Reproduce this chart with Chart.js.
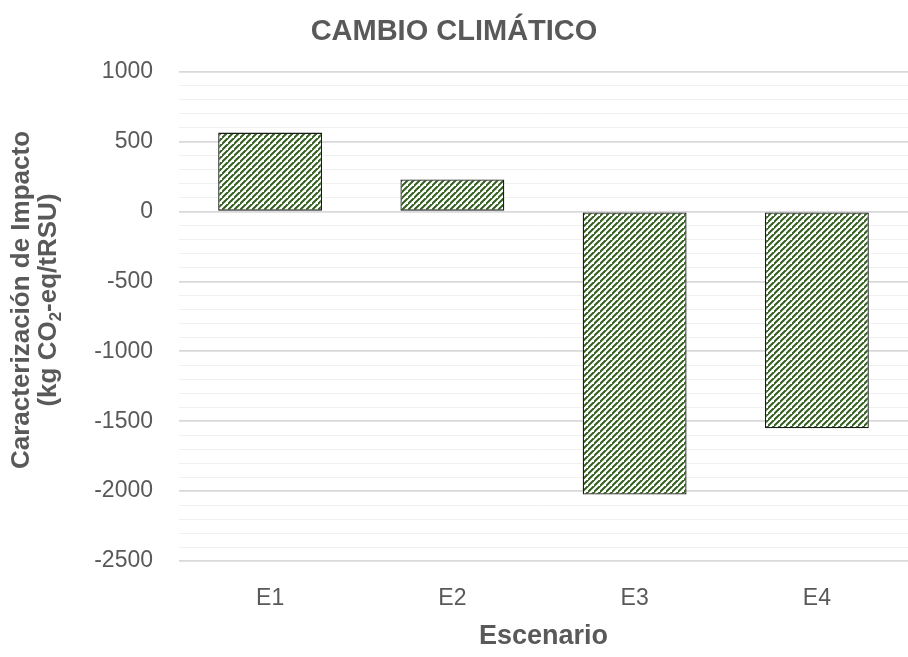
<!DOCTYPE html>
<html>
<head>
<meta charset="utf-8">
<script src="https://cdn.jsdelivr.net/npm/chart.js@4"></script>
<style>
  html, body { margin: 0; padding: 0; background: #fff; }
  #wrap { width: 908px; height: 657px; position: relative; }
</style>
</head>
<body>
<div id="wrap"><canvas id="chart"></canvas></div>
<script>
// --- DATA ---
const scenarios = ['E1', 'E2', 'E3', 'E4'];
const impactValues = [565, 230, -2025, -1550];
const yMin = -2500;
const yMax = 1000;
const yTitleLine1 = 'Caracterización de Impacto';
const yTitleLine2 = ['(kg CO', '2', '-eq/tRSU)']; // middle piece is a subscript

const FONT = "'Liberation Sans', Arial, sans-serif";
const TEXT_GRAY = '#595959';

// diagonal hatch fill like the Excel pattern
function makeHatch() {
    const size = 6;
    const c = document.createElement('canvas');
    c.width = size; c.height = size;
    const g = c.getContext('2d');
    g.fillStyle = '#ffffff';
    g.fillRect(0, 0, size, size);
    g.strokeStyle = '#335e20';
    g.lineWidth = 2.0;
    g.beginPath();
    g.moveTo(-1, size + 1); g.lineTo(size + 1, -1);
    g.moveTo(-1 - size, size + 1); g.lineTo(1, -1);
    g.moveTo(size - 1, 2 * size + 1); g.lineTo(2 * size + 1, size - 1);
    g.stroke();
    return g.createPattern(c, 'repeat');
}

// y axis title with a real subscript, drawn rotated
const yTitlePlugin = {
    id: 'yTitle',
    afterDraw(chart) {
        const c = chart.ctx;
        const cy = 300;
        c.save();
        c.fillStyle = TEXT_GRAY;
        c.textBaseline = 'middle';
        c.font = `bold 26px ${FONT}`;
        c.translate(22, cy);
        c.rotate(-Math.PI / 2);
        c.textAlign = 'center';
        c.fillText(yTitleLine1, 0, 0);
        c.restore();

        c.save();
        c.fillStyle = TEXT_GRAY;
        c.textBaseline = 'middle';
        c.translate(49, cy);
        c.rotate(-Math.PI / 2);
        const big = `bold 26px ${FONT}`, small = `bold 17px ${FONT}`;
        c.font = big;
        const w0 = c.measureText(yTitleLine2[0]).width;
        const w2 = c.measureText(yTitleLine2[2]).width;
        c.font = small;
        const w1 = c.measureText(yTitleLine2[1]).width;
        let x = -(w0 + w1 + w2) / 2;
        c.textAlign = 'left';
        c.font = big;
        c.fillText(yTitleLine2[0], x, 0);
        x += w0;
        c.font = small;
        c.fillText(yTitleLine2[1], x, 7);
        x += w1;
        c.font = big;
        c.fillText(yTitleLine2[2], x, 0);
        c.restore();
    }
};

const ctx = document.getElementById('chart').getContext('2d');
new Chart(ctx, {
    type: 'bar',
    data: {
        labels: scenarios,
        datasets: [{
            label: 'Cambio climático',
            data: impactValues,
            backgroundColor: makeHatch(),
            borderColor: '#1a1a1a',
            borderWidth: 1.3,
            borderSkipped: false,
            categoryPercentage: 1,
            barPercentage: 0.57
        }]
    },
    plugins: [yTitlePlugin],
    options: {
        responsive: true,
        maintainAspectRatio: false,
        animation: false,
        layout: { padding: { left: 0, right: 0, top: 0, bottom: 0 } },
        plugins: {
            legend: { display: false },
            tooltip: { enabled: false },
            title: {
                display: true,
                text: 'CAMBIO CLIMÁTICO',
                color: TEXT_GRAY,
                font: { family: FONT, size: 29, weight: 'bold' },
                padding: { top: 15, bottom: 22 }
            }
        },
        scales: {
            x: {
                grid: { display: false },
                border: { display: false },
                ticks: { color: TEXT_GRAY, font: { family: FONT, size: 23 }, padding: 16 },
                title: {
                    display: true,
                    text: 'Escenario',
                    color: TEXT_GRAY,
                    font: { family: FONT, size: 27, weight: 'bold' },
                    padding: { top: 0 }
                },
                afterFit: (scale) => { scale.height = 96; }
            },
            y: {
                min: yMin,
                max: yMax,
                border: { display: false },
                grid: {
                    drawTicks: false,
                    color: (c) => (c.tick && c.tick.value % 500 === 0) ? '#d9d9d9' : '#f0f0f0',
                    lineWidth: (c) => (c.tick && c.tick.value % 500 === 0) ? 1.8 : 1
                },
                ticks: {
                    stepSize: 100,
                    autoSkip: false,
                    color: TEXT_GRAY,
                    font: { family: FONT, size: 23 },
                    padding: 26,
                    callback: (v) => (v % 500 === 0 ? v : '')
                },
                afterFit: (scale) => { scale.width = 179; }
            }
        }
    }
});
</script>
</body>
</html>
